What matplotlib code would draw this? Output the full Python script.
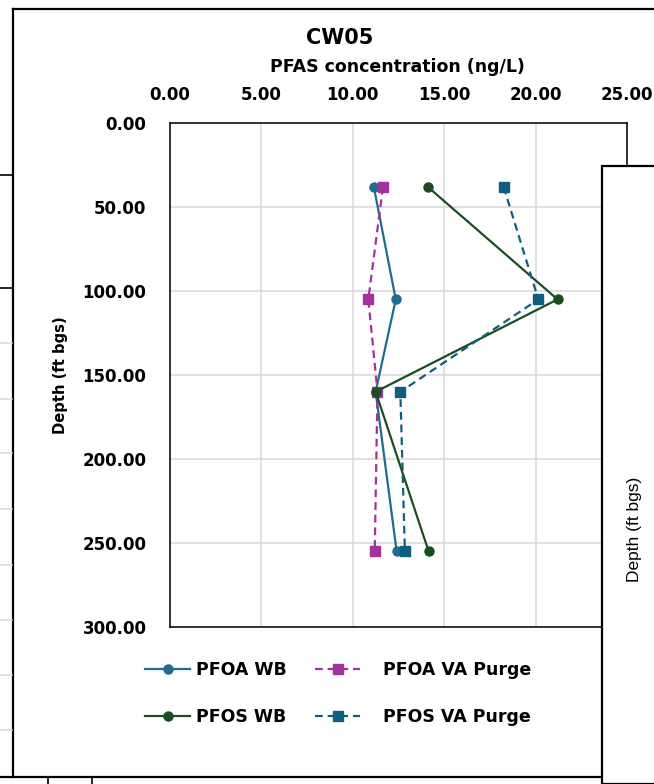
import matplotlib
matplotlib.use("Agg")
import matplotlib.pyplot as plt
from matplotlib.patches import Rectangle
from matplotlib.lines import Line2D

plt.rcParams['font.family'] = ['DejaVu Sans']

# ---- data ----
title = "CW05"
x_label = "PFAS concentration (ng/L)"
y_label = "Depth (ft bgs)"
depth = [38, 105, 160, 255]
pfoa_wb = [11.15, 12.35, 11.25, 12.4]
pfoa_va = [11.65, 10.85, 11.35, 11.2]
pfos_wb = [14.1, 21.2, 11.25, 14.15]
pfos_va = [18.25, 20.15, 12.6, 12.85]
x_ticks = [0, 5, 10, 15, 20, 25]
y_ticks = [0, 50, 100, 150, 200, 250, 300]

W, H = 654, 784
fig = plt.figure(figsize=(W / 100, H / 100), dpi=100)
fig.patch.set_facecolor('white')

def fx(px):
    return px / W

def fy(py):
    return 1 - py / H

# main plot area
ax = fig.add_axes([fx(170), fy(627), fx(627) - fx(170), fy(123) - fy(627)])
ax.set_xlim(0, 25)
ax.set_ylim(300, 0)
ax.xaxis.tick_top()
ax.set_xticks(x_ticks)
ax.set_yticks(y_ticks)
ax.set_xticklabels([f"{v:.2f}" for v in x_ticks], fontsize=12, fontweight='bold')
ax.set_yticklabels([f"{v:.2f}" for v in y_ticks], fontsize=12, fontweight='bold')
ax.tick_params(axis='x', length=0, pad=14)
ax.tick_params(axis='y', length=0, pad=17)
ax.grid(True, color='#d9d9d9', linewidth=1.1)
ax.set_axisbelow(True)
for s in ax.spines.values():
    s.set_color('black')
    s.set_linewidth(1.1)

c_pfoa_wb = '#1f6c8c'
c_pfoa_va = '#a3319e'
c_pfos_wb = '#1b4d20'
c_pfos_va = '#0e5f7f'

ax.plot(pfoa_wb, depth, color=c_pfoa_wb, lw=1.6, marker='o', ms=6.5, label='PFOA WB')
ax.plot(pfoa_va, depth, color=c_pfoa_va, lw=1.6, ls=(0, (3.5, 2.2)), marker='s', ms=6.5, label='PFOA VA Purge')
ax.plot(pfos_wb, depth, color=c_pfos_wb, lw=1.6, marker='o', ms=6.5, label='PFOS WB')
ax.plot(pfos_va, depth, color=c_pfos_va, lw=1.6, ls=(0, (3.5, 2.2)), marker='s', ms=6.5, label='PFOS VA Purge')

# titles
fig.text(fx(340), fy(38), title, ha='center', va='center', fontsize=15, fontweight='bold')
fig.text(fx(397), fy(67), x_label, ha='center', va='center', fontsize=12.5, fontweight='bold')
fig.text(fx(61), fy(375), y_label, ha='center', va='center', rotation=90, fontsize=10.6, fontweight='bold')

# legend
h = ax.get_lines()
leg1 = fig.legend([h[0], h[2]], ['PFOA WB', 'PFOS WB'], loc='upper left',
                  bbox_to_anchor=(fx(145), fy(661)), frameon=False,
                  prop={'size': 12.5, 'weight': 'bold'}, handlelength=2.6,
                  handletextpad=0.35, labelspacing=1.65, borderpad=0, borderaxespad=0)
leg2 = fig.legend([h[1], h[3]], ['PFOA VA Purge', 'PFOS VA Purge'], loc='upper left',
                  bbox_to_anchor=(fx(315), fy(661)), frameon=False,
                  prop={'size': 12.5, 'weight': 'bold'}, handlelength=2.6,
                  handletextpad=1.3, labelspacing=1.65, borderpad=0, borderaxespad=0)

# chart frame of main chart
lw_frame = 1.6
fig.add_artist(Line2D([fx(13), fx(13)], [fy(9), fy(777)], color='black', lw=lw_frame))
fig.add_artist(Line2D([fx(13), 1.0], [fy(9), fy(9)], color='black', lw=lw_frame))
fig.add_artist(Line2D([0, fx(602)], [fy(777), fy(777)], color='black', lw=lw_frame))
fig.add_artist(Line2D([fx(48), fx(48)], [fy(777), 0], color='black', lw=1.2))
fig.add_artist(Line2D([fx(92), fx(92)], [fy(777), 0], color='black', lw=1.2))

# background chart fragments on left
for yy in [175, 288]:
    fig.add_artist(Line2D([0, fx(12)], [fy(yy), fy(yy)], color='black', lw=1.2))
for yy in [343, 399, 453, 509, 565, 620, 675, 730]:
    fig.add_artist(Line2D([0, fx(12)], [fy(yy), fy(yy)], color='#d9d9d9', lw=1.1))

# overlapping chart on the right
box = Rectangle((fx(602), 0), 1 - fx(602) + 0.01, fy(166), transform=fig.transFigure,
                facecolor='white', edgecolor='black', lw=lw_frame, zorder=10)
fig.add_artist(box)
fig.text(fx(635), fy(529), y_label, ha='center', va='center', rotation=90,
         fontsize=12.5, fontweight='normal', family='Liberation Sans', zorder=11)

fig.savefig('out.png', dpi=100, facecolor='white')
